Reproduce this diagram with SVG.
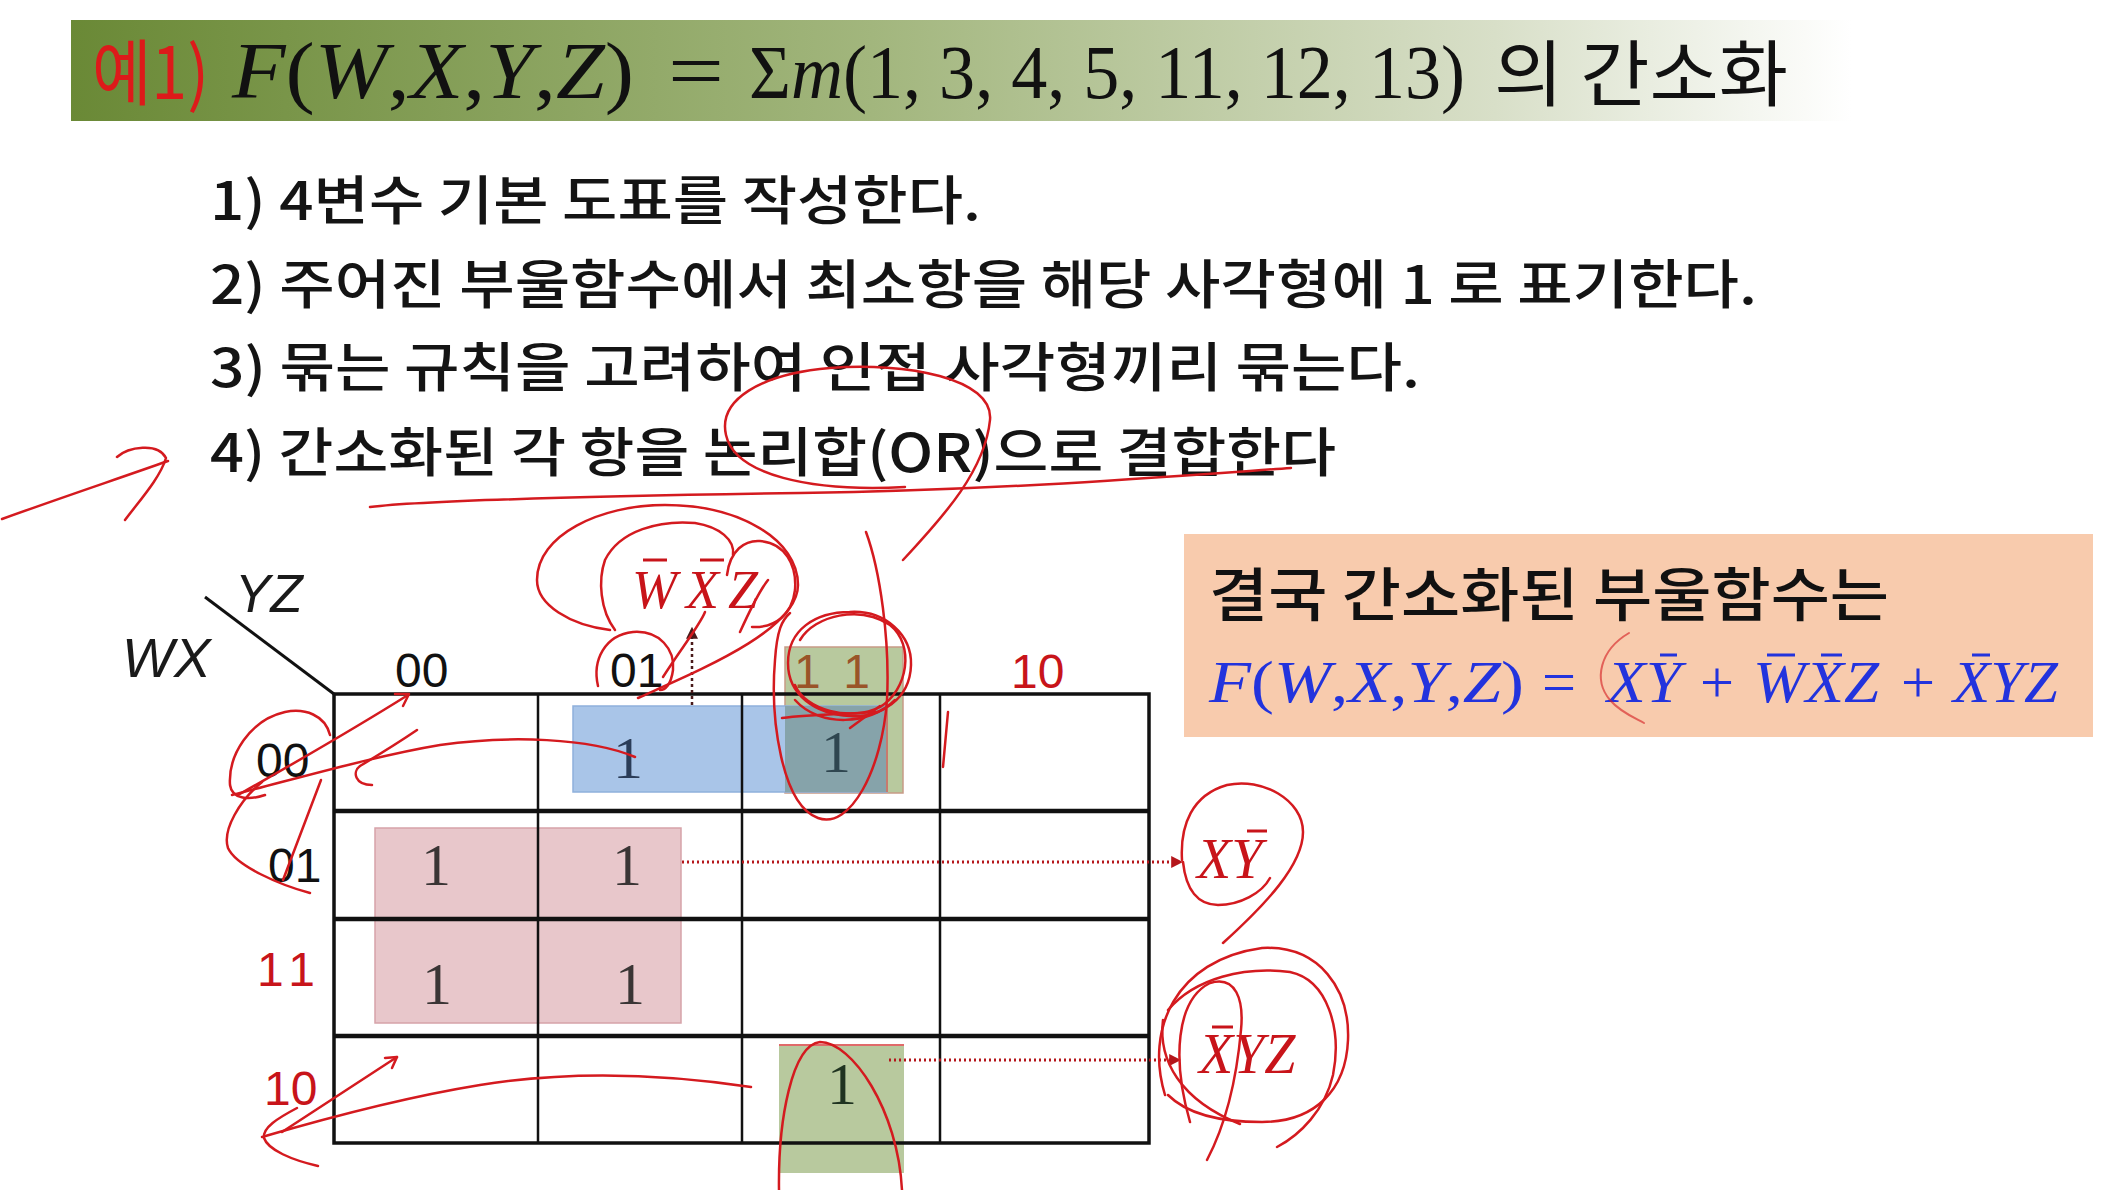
<svg xmlns="http://www.w3.org/2000/svg" width="2119" height="1190" viewBox="0 0 2119 1190">
<defs>
<style>
.kr{font-family:"Noto Sans CJK KR","Noto Sans",sans-serif;}
.step{font-size:53px;font-weight:500;fill:#141414;}
.mi{font-family:"Liberation Serif","DejaVu Serif",serif;font-style:italic;}
.mu{font-family:"Liberation Serif","DejaVu Serif",serif;font-style:normal;}
.lbl{font-family:"Liberation Sans",Arial,sans-serif;font-size:48px;}
.one{font-family:"Liberation Serif","DejaVu Serif",serif;font-size:60px;text-anchor:middle;}
.red{fill:#c8141a;}
.ann{fill:none;stroke:#d41a1f;stroke-width:2.5;stroke-linecap:round;stroke-linejoin:round;}
.hl{stroke:#111;stroke-width:4.5;}
.vl{stroke:#111;stroke-width:2.5;}
.dotr{fill:none;stroke:#b4161b;stroke-width:3;stroke-dasharray:2 3;}
.dotk{fill:none;stroke:#4a1a1a;stroke-width:2.5;stroke-dasharray:3 3;}
.bar{stroke-width:3;}
</style>
<linearGradient id="bannerGrad" x1="0" y1="0" x2="1" y2="0">
<stop offset="0" stop-color="#6a8936"/>
<stop offset="0.45" stop-color="#a2b67d"/>
<stop offset="0.8" stop-color="#d8dfc8"/>
<stop offset="1" stop-color="#ffffff"/>
</linearGradient>
<marker id="ahR" viewBox="0 0 10 10" refX="9" refY="5" markerWidth="12" markerHeight="12" markerUnits="userSpaceOnUse" orient="auto"><path d="M0,0 L10,5 L0,10 z" fill="#b4161b"/></marker>
<marker id="ahK" viewBox="0 0 10 10" refX="9" refY="5" markerWidth="12" markerHeight="12" markerUnits="userSpaceOnUse" orient="auto"><path d="M0,0 L10,5 L0,10 z" fill="#4a1a1a"/></marker>
</defs>
<rect width="2119" height="1190" fill="#ffffff"/>

<g id="title">
<rect x="71" y="20" width="1780" height="101" fill="url(#bannerGrad)"/>
<text class="kr" x="92" y="99" font-size="72" fill="#dd1a1a" textLength="117" lengthAdjust="spacingAndGlyphs">예1)</text>
<text class="mi" x="232" y="98" font-size="80" fill="#111" textLength="402" lengthAdjust="spacingAndGlyphs">F<tspan class="mu">(</tspan>W<tspan class="mu">,</tspan>X<tspan class="mu">,</tspan>Y<tspan class="mu">,</tspan>Z<tspan class="mu">)</tspan></text>
<text class="mu" x="668" y="98" font-size="80" fill="#111" textLength="56" lengthAdjust="spacingAndGlyphs">=</text>
<text class="mu" x="749" y="98" font-size="76" fill="#111" textLength="716" lengthAdjust="spacingAndGlyphs">Σ<tspan class="mi">m</tspan>(1, 3, 4, 5, 11, 12, 13)</text>
<text class="kr" x="1494" y="100" font-size="72" fill="#111" textLength="294" lengthAdjust="spacingAndGlyphs">의 간소화</text>
</g>

<g id="steps" class="kr step">
<text x="210" y="220" textLength="771" lengthAdjust="spacingAndGlyphs">1) 4변수 기본 도표를 작성한다.</text>
<text x="210" y="304" textLength="1547" lengthAdjust="spacingAndGlyphs">2) 주어진 부울함수에서 최소항을 해당 사각형에 1 로 표기한다.</text>
<text x="210" y="387" textLength="1210" lengthAdjust="spacingAndGlyphs">3) 묶는 규칙을 고려하여 인접 사각형끼리 묶는다.</text>
<text x="210" y="472" textLength="1126" lengthAdjust="spacingAndGlyphs">4) 간소화된 각 항을 논리합(OR)으로 결합한다</text>
</g>

<g id="result">
<rect x="1184" y="534" width="909" height="203" fill="#f8cbad"/>
<text class="kr" x="1209" y="616" font-size="58" font-weight="500" fill="#111" textLength="680" lengthAdjust="spacingAndGlyphs">결국 간소화된 부울함수는</text>
<g fill="#2233dd" font-size="60">
<text class="mi" x="1209" y="702" textLength="315" lengthAdjust="spacingAndGlyphs">F<tspan class="mu">(</tspan>W<tspan class="mu">,</tspan>X<tspan class="mu">,</tspan>Y<tspan class="mu">,</tspan>Z<tspan class="mu">)</tspan></text>
<text class="mu" x="1542" y="702" textLength="34" lengthAdjust="spacingAndGlyphs">=</text>
<text class="mi" x="1607" y="702" textLength="74" lengthAdjust="spacingAndGlyphs">XY</text>
<text class="mu" x="1700" y="702" textLength="34" lengthAdjust="spacingAndGlyphs">+</text>
<text class="mi" x="1753" y="702" textLength="126" lengthAdjust="spacingAndGlyphs">WXZ</text>
<text class="mu" x="1901" y="702" textLength="34" lengthAdjust="spacingAndGlyphs">+</text>
<text class="mi" x="1953" y="702" textLength="105" lengthAdjust="spacingAndGlyphs">XYZ</text>
</g>
<g stroke="#2233dd" class="bar">
<line x1="1660" y1="655" x2="1677" y2="655"/>
<line x1="1767" y1="655" x2="1795" y2="655"/>
<line x1="1821" y1="655" x2="1842" y2="655"/>
<line x1="1972" y1="655" x2="1990" y2="655"/>
</g>
</g>

<g id="kmap-groups">
<rect x="375" y="828" width="306" height="195" fill="#e8c7cb" stroke="#d6a3a9" stroke-width="1.5"/>
<rect x="785" y="647" width="118" height="146" fill="#b8c99e" stroke="#c79a86" stroke-width="1.5"/>
<rect x="573" y="706" width="314" height="86" fill="#a9c5e8" stroke="#8fb0db" stroke-width="1.5"/>
<rect x="785" y="706" width="102" height="86" fill="#86a3aa"/>
<line x1="887" y1="706" x2="887" y2="792" stroke="#c77a6e" stroke-width="2"/>
<rect x="779" y="1045" width="125" height="128" fill="#b8c99e"/>
<line x1="779" y1="1045" x2="904" y2="1045" stroke="#e06a6a" stroke-width="2"/>
</g>

<g id="kmap-grid" fill="none">
<line x1="205" y1="597" x2="334" y2="694" stroke="#111" stroke-width="3"/>
<rect x="334" y="694" width="815" height="449" stroke="#111" stroke-width="3.5"/>
<line class="hl" x1="334" y1="811" x2="1149" y2="811"/>
<line class="hl" x1="334" y1="919" x2="1149" y2="919"/>
<line class="hl" x1="334" y1="1036" x2="1149" y2="1036"/>
<line class="vl" x1="538" y1="694" x2="538" y2="1143"/>
<line class="vl" x1="742" y1="694" x2="742" y2="1143"/>
<line class="vl" x1="940" y1="694" x2="940" y2="1143"/>
</g>

<g id="kmap-labels">
<text x="235" y="612" font-family="Liberation Sans,Arial,sans-serif" font-style="italic" font-size="53" fill="#1a1a1a">YZ</text>
<text x="122" y="677" font-family="Liberation Sans,Arial,sans-serif" font-style="italic" font-size="55" fill="#1a1a1a">WX</text>
<text class="lbl" x="395" y="687" fill="#111">00</text>
<text class="lbl" x="610" y="687" fill="#111">01</text>
<text class="lbl" x="794" y="688" fill="#9a5428" textLength="76" lengthAdjust="spacing">11</text>
<text class="lbl red" x="1011" y="688">10</text>
<text class="lbl" x="256" y="777" fill="#111">00</text>
<text class="lbl" x="268" y="882" fill="#111">01</text>
<text class="lbl red" x="257" y="986" textLength="58" lengthAdjust="spacing">11</text>
<text class="lbl red" x="264" y="1105">10</text>
</g>

<g id="kmap-ones">
<text class="one" x="628" y="778" fill="#2b3d58">1</text>
<text class="one" x="836" y="772" fill="#2f4650">1</text>
<text class="one" x="436" y="885" fill="#3a3535">1</text>
<text class="one" x="627" y="885" fill="#3a3535">1</text>
<text class="one" x="437" y="1004" fill="#3a3535">1</text>
<text class="one" x="630" y="1004" fill="#3a3535">1</text>
<text class="one" x="842" y="1104" fill="#1f3320">1</text>
</g>

<g id="terms">
<text class="mi red" x="632" y="608" font-size="54" textLength="126" lengthAdjust="spacing">WXZ</text>
<line x1="643" y1="560" x2="667" y2="560" stroke="#c8141a" class="bar"/>
<line x1="700" y1="560" x2="724" y2="560" stroke="#c8141a" class="bar"/>
<text class="mi red" x="1197" y="878" font-size="56">XY</text>
<line x1="1247" y1="831" x2="1267" y2="831" stroke="#c8141a" class="bar"/>
<text class="mi red" x="1199" y="1073" font-size="56">XYZ</text>
<line x1="1212" y1="1027" x2="1233" y2="1027" stroke="#c8141a" class="bar"/>
</g>

<g id="connectors">
<line class="dotk" x1="692" y1="705" x2="692" y2="628" marker-end="url(#ahK)"/>
<line class="dotr" x1="682" y1="862" x2="1182" y2="862" marker-end="url(#ahR)"/>
<line class="dotr" x1="889" y1="1060" x2="1180" y2="1060" marker-end="url(#ahR)"/>
</g>

<g id="annotations" class="ann">
<path d="M2,519 C60,498 120,478 168,461"/>
<path d="M117,457 C128,447 158,442 166,458 C160,478 140,500 125,520"/>
<path d="M370,507 C430,500 600,496 800,493 C1000,490 1150,478 1291,468"/>
<path d="M903,560 C945,515 985,470 990,420 C994,378 905,362 830,368 C760,374 718,400 726,435 C735,475 810,492 905,487"/>
<path d="M610,630 C570,625 537,605 537,580 C537,535 600,505 665,505 C740,505 798,540 798,585 C798,630 700,670 638,698"/>
<path d="M615,630 C600,610 598,580 605,560 C620,530 660,520 695,523 C720,527 735,540 733,555"/>
<path d="M727,575 C730,550 745,540 760,541 C785,543 797,565 795,590 C792,615 775,628 752,627"/>
<path d="M598,686 C592,660 605,635 633,632 C660,630 675,650 673,670 C671,685 665,690 660,690"/>
<path d="M663,677 C680,650 700,625 705,612"/>
<path d="M740,632 C750,610 760,590 768,580"/>
<path d="M850,612 C885,610 912,635 911,665 C910,700 880,718 850,716 C815,714 788,695 788,663 C788,630 815,612 850,612"/>
<path d="M800,640 C815,615 860,605 890,625 C915,645 908,690 880,707 C850,722 805,710 795,685"/>
<path d="M795,700 C820,728 870,725 895,700"/>
<path d="M782,718 C810,714 850,714 877,712"/>
<path d="M850,728 L880,706"/>
<path d="M866,532 C880,570 890,640 887,700 C882,770 850,830 818,818 C782,805 770,720 775,660 C777,630 782,620 790,613"/>
<path d="M948,712 L943,767"/>
<path d="M330,735 C325,715 305,708 285,712 C250,720 228,755 230,785 C232,800 250,800 265,795"/>
<path d="M238,795 C300,760 360,725 408,695"/>
<path d="M395,694 L409,694 L403,706"/>
<path d="M635,757 C590,738 510,735 440,745 C380,755 310,775 232,795"/>
<path d="M417,730 C395,745 370,760 360,766 C352,772 355,785 372,785"/>
<path d="M262,782 C240,800 222,830 228,848 C236,866 280,885 310,893"/>
<path d="M321,780 L283,880"/>
<path d="M751,1087 C650,1072 560,1072 480,1085 C400,1098 320,1120 262,1137"/>
<path d="M297,1108 C278,1118 262,1128 264,1138 C268,1150 292,1160 318,1166"/>
<path d="M282,1132 L397,1057"/>
<path d="M385,1058 L397,1057 L392,1068"/>
<path d="M779,1190 C778,1120 792,1045 820,1042 C852,1042 898,1110 902,1190"/>
<path d="M1182,860 C1180,825 1192,795 1227,785 C1262,777 1303,800 1303,832 C1303,865 1265,905 1223,943"/>
<path d="M1183,862 C1186,890 1198,905 1218,905 C1240,905 1262,893 1270,878"/>
<path d="M1165,1095 C1145,1030 1175,960 1262,948 C1320,945 1350,990 1348,1040 C1346,1090 1315,1122 1262,1122 C1215,1122 1185,1112 1168,1095"/>
<path d="M1168,1010 C1195,978 1245,966 1290,972 C1328,980 1342,1030 1333,1075 C1325,1110 1300,1135 1277,1147"/>
<path d="M1190,1122 C1172,1060 1176,1000 1210,983 C1236,975 1244,1000 1241,1030 C1237,1075 1228,1120 1207,1160"/>
<path d="M1163,1020 C1158,1060 1180,1100 1240,1124"/>
<path d="M1629,633 C1600,650 1593,680 1610,700 C1620,712 1635,718 1644,723" stroke-opacity="0.6" stroke-width="2"/>
</g>
</svg>
